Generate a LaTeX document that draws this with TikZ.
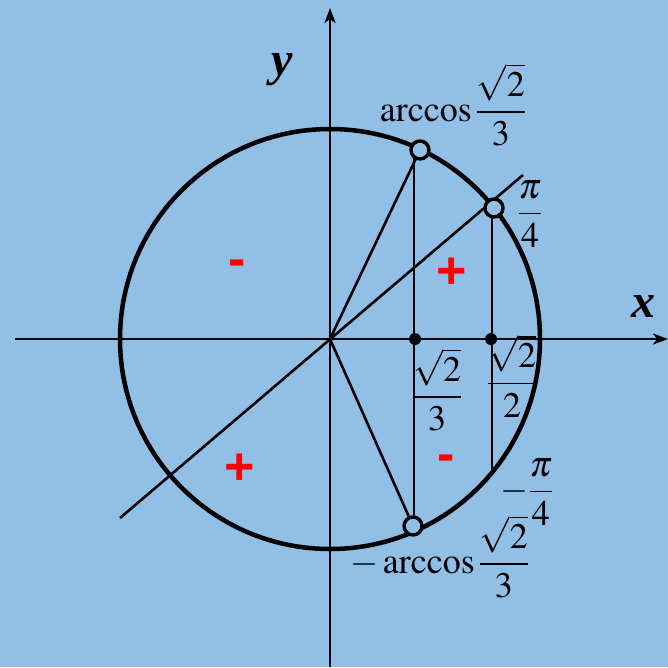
\documentclass[tikz,border=0pt]{standalone}
\usepackage{mathptmx}
\usepackage[no-math]{fontspec}
\setmainfont{Liberation Serif}
\newfontfamily\signfont{Liberation Sans}
\usetikzlibrary{arrows.meta}
\definecolor{bgblue}{RGB}{146,191,229}
\definecolor{signred}{RGB}{255,0,0}
\begin{document}
\begin{tikzpicture}[x=1pt,y=-1pt,
  axisline/.style={line width=2.6pt,-{Stealth[length=15pt,width=11pt,inset=4pt]}},
  segline/.style={line width=2.6pt},
  unitcircle/.style={line width=4.5pt},
  ringmark/.style={circle,draw,line width=3.4pt,fill=bgblue,minimum size=18pt,inner sep=0pt},
  pointdot/.style={circle,fill=black,minimum size=12pt,inner sep=0pt},
  lab/.style={font=\fontsize{36}{40}\selectfont,inner sep=0pt},
  axlab/.style={font=\fontsize{48}{52}\selectfont\bfseries\itshape,inner sep=0pt},
  signlab/.style={font=\signfont\fontsize{52}{56}\selectfont\bfseries,text=signred,inner sep=0pt}]
\fill[bgblue] (0,0) rectangle (668,667);
\useasboundingbox (0,0) rectangle (668,667);
% coordinates
\coordinate (O) at (330,339);
\coordinate (XL) at (15,339);
\coordinate (XR) at (668,339);
\coordinate (YB) at (330,667);
\coordinate (YT) at (330,8);
\coordinate (DL) at (120,518);
\coordinate (DR) at (523,175);
\coordinate (V1t) at (414,158);
\coordinate (V1b) at (414,518);
\coordinate (V2t) at (492,216);
\coordinate (V2b) at (492,471);
% axes and circle
\draw[axisline] (XL) -- (XR);
\draw[axisline] (YB) -- (YT);
\draw[unitcircle] (O) circle[radius=210pt];
\draw[segline] (DL) -- (DR);
\draw[segline] (V1t) -- (V1b);
\draw[segline] (V2t) -- (V2b);
% markers
\node[ringmark] (A) at (420,150) {};
\node[ringmark] (P) at (494,208) {};
\node[ringmark] (B) at (413,526) {};
\draw[segline] (O) -- (A);
\draw[segline] (O) -- (B);
\node[pointdot] (D1) at (415,339) {};
\node[pointdot] (D2) at (491,339) {};
% labels
\node[lab] (LA) at (453,105) {$\displaystyle\arccos\frac{\sqrt{2}}{3}$};
\node[lab] (LP) at (530,214) {$\displaystyle\frac{\pi}{4}$};
\node[lab] (L3) at (437,390) {$\displaystyle\frac{\sqrt{2}}{3}$};
\node[lab] (L2) at (512,376) {$\displaystyle\frac{\sqrt{2}}{2}$};
\node[lab] (LmP) at (527,492) {$\displaystyle-\frac{\pi}{4}$};
\node[lab] (LB) at (440,557) {$\displaystyle-\arccos\frac{\sqrt{2}}{3}$};
\node[axlab] (ylab) at (282,70) {y};
\node[axlab] (xlab) at (643,306) {x};
\node[signlab] (s1) at (237,268) {-};
\node[signlab] (s2) at (452,273) {+};
\node[signlab] (s3) at (240,469) {+};
\node[signlab] (s4) at (446,463) {-};
\end{tikzpicture}
\end{document}
